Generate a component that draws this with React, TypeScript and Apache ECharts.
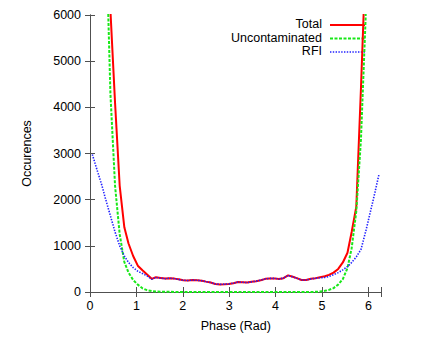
import React, { useEffect, useRef } from "react";
import * as echarts from "echarts";

const phase = [
  0.05, 0.15, 0.25, 0.34, 0.44, 0.54, 0.64, 0.74, 0.83, 0.93, 1.03, 1.13, 1.23, 1.33, 1.42, 1.52,
  1.62, 1.72, 1.82, 1.91, 2.01, 2.11, 2.21, 2.31, 2.41, 2.5, 2.6, 2.7, 2.8, 2.9, 2.99, 3.09,
  3.19, 3.29, 3.39, 3.48, 3.58, 3.68, 3.78, 3.88, 3.98, 4.07, 4.17, 4.27, 4.37, 4.47, 4.56, 4.66,
  4.76, 4.86, 4.96, 5.06, 5.15, 5.25, 5.35, 5.45, 5.55, 5.64, 5.74, 5.84, 5.94, 6.04, 6.14, 6.23,
];

const total = [
  60000, 42000, 24000, 12000, 6100, 4100, 2300, 1400, 1050, 780, 570, 470, 380, 285, 320, 305,
  290, 300, 290, 275, 255, 250, 260, 255, 245, 225, 205, 175, 165, 170, 175, 190,
  215, 210, 205, 220, 235, 255, 285, 295, 295, 280, 300, 360, 330, 295, 260, 262,
  285, 300, 320, 340, 370, 420, 500, 640, 850, 1300, 1850, 4400, 7200, 14000, 28000, 50000,
];

const uncontaminated = [
  57000, 39000, 21000, 8000, 4300, 2300, 1250, 650, 420, 260, 160, 80, 40, 20, 10, 6,
  4, 3, 2, 2, 1, 1, 1, 1, 0, 0, 0, 0, 0, 0, 0, 0,
  0, 0, 0, 0, 0, 0, 0, 0, 0, 0, 0, 1, 1, 1, 1, 2,
  2, 3, 10, 25, 45, 85, 160, 280, 520, 950, 1750, 3300, 5900, 11000, 24000, 45000,
];

const rfi = [
  2980, 2650, 2330, 2000, 1650, 1300, 1000, 780, 640, 530, 450, 400, 350, 275, 315, 300,
  288, 298, 288, 273, 254, 249, 259, 254, 245, 225, 205, 175, 165, 170, 175, 190,
  215, 210, 205, 220, 235, 255, 285, 295, 295, 280, 300, 359, 329, 294, 259, 260,
  283, 297, 308, 315, 335, 375, 420, 480, 550, 640, 760, 920, 1300, 1720, 2150, 2550,
];

const seriesNames = ["Total", "Uncontaminated", "RFI"];

const yTicks = { min: 0, max: 6000, interval: 1000 };
const xRange = { min: 0, max: 2 * Math.PI, interval: 1 };

const FONT = "Liberation Sans";
const FRAME = "#505050";
const COLORS = ["#ff0000", "#18e818", "#2020ff"];
const STYLES: any[] = [
  { width: 2, type: "solid" },
  { width: 2, type: [3, 1.5] },
  { width: 1.6, type: [1.4, 1.4] },
];

export default function App() {
  const ref = useRef<HTMLDivElement>(null);
  useEffect(() => {
    if (!ref.current) return;
    const chart = echarts.init(ref.current, undefined, { renderer: "svg" });
    const pair = (ys: number[]) => phase.map((x, i) => [x, ys[i]]);
    const xLabelFmt = (v: number) => (Number.isInteger(v) ? String(v) : "");
    const axisLine = { show: true, lineStyle: { color: FRAME, width: 1 } };
    const axisTick = { show: true, inside: true, length: 5, lineStyle: { color: FRAME } };
    const datasets = [total, uncontaminated, rfi];

    const legendRows = [25, 38.5, 52];
    const legendGraphics: any[] = [];
    seriesNames.forEach((name, i) => {
      legendGraphics.push({
        type: "text",
        right: 436 - 322,
        top: legendRows[i] - 7.5,
        style: { text: name, fontFamily: FONT, fontSize: 12.5, fill: "#000", textAlign: "right" },
      });
      const st = STYLES[i];
      legendGraphics.push({
        type: "line",
        shape: { x1: 330, y1: legendRows[i], x2: 365, y2: legendRows[i] },
        style: {
          stroke: COLORS[i],
          lineWidth: st.width,
          lineDash: Array.isArray(st.type) ? st.type : null,
        },
      });
    });

    chart.setOption({
      animation: false,
      backgroundColor: "#ffffff",
      grid: { left: 90, right: 54.5, top: 15, bottom: 44.3, containLabel: false },
      graphic: legendGraphics,
      xAxis: [
        {
          type: "value",
          ...xRange,
          position: "bottom",
          name: "Phase (Rad)",
          nameLocation: "middle",
          nameGap: 27,
          nameTextStyle: { fontFamily: FONT, fontSize: 12.5, color: "#000" },
          axisLine,
          axisTick,
          splitLine: { show: false },
          axisLabel: { formatter: xLabelFmt, margin: 7, fontFamily: FONT, fontSize: 12.5, color: "#000" },
        },
        {
          type: "value",
          ...xRange,
          position: "top",
          axisLine,
          axisTick,
          splitLine: { show: false },
          axisLabel: { show: false },
        },
      ],
      yAxis: [
        {
          type: "value",
          ...yTicks,
          position: "left",
          name: "Occurences",
          nameLocation: "middle",
          nameGap: 57,
          nameTextStyle: { fontFamily: FONT, fontSize: 12.5, color: "#000" },
          axisLine,
          axisTick,
          splitLine: { show: false },
          axisLabel: {
            formatter: (v: number) => String(v),
            margin: 9,
            fontFamily: FONT,
            fontSize: 12.5,
            color: "#000",
          },
        },
        {
          type: "value",
          ...yTicks,
          position: "right",
          axisLine,
          axisTick,
          splitLine: { show: false },
          axisLabel: { show: false },
        },
      ],
      series: seriesNames.map((name, i) => ({
        name,
        type: "line",
        data: pair(datasets[i]),
        showSymbol: false,
        symbol: "none",
        clip: true,
        lineStyle: { color: COLORS[i], width: STYLES[i].width, type: STYLES[i].type },
        itemStyle: { color: COLORS[i] },
      })),
    });
    return () => chart.dispose();
  }, []);
  return (
    <div
      ref={ref}
      style={{ position: "fixed", left: 0, top: 0, width: 436, height: 337, background: "#fff" }}
    />
  );
}
